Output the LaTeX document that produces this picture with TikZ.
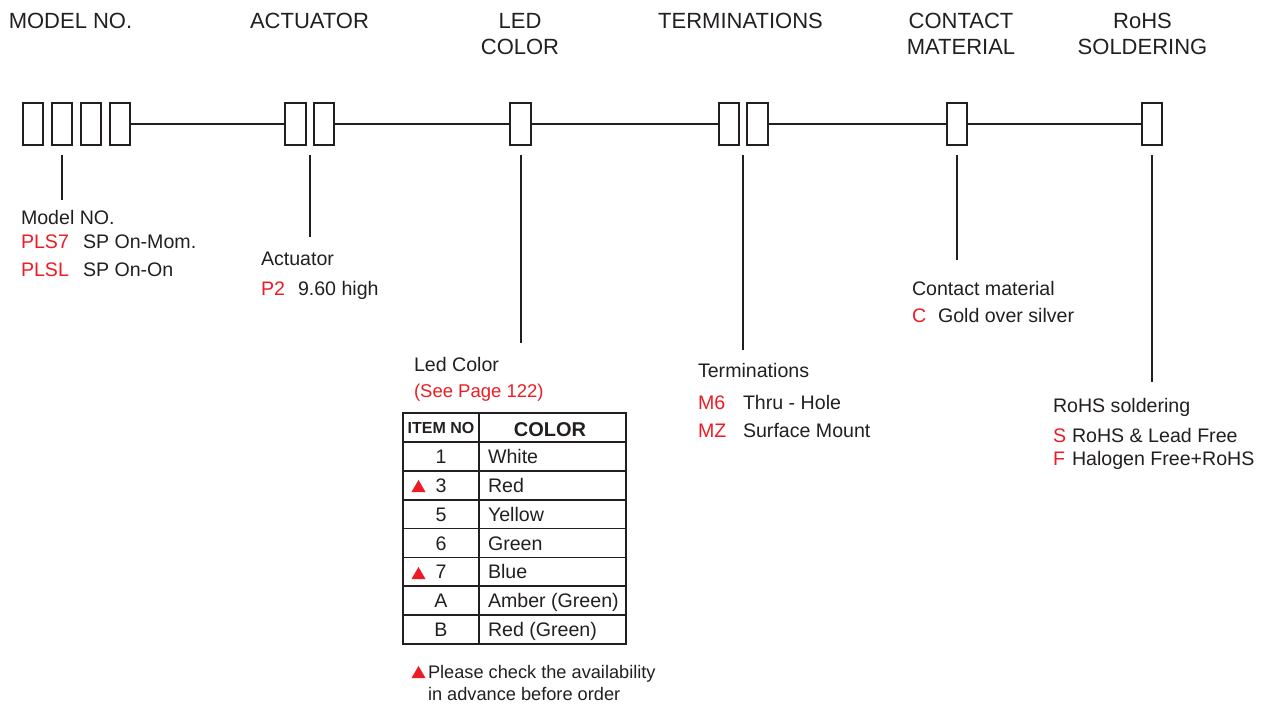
\documentclass[tikz,border=0pt]{standalone}
\usepackage{fontspec}
\setmainfont{Liberation Sans}
\usetikzlibrary{calc}
\definecolor{ink}{HTML}{231F20}
\definecolor{codered}{HTML}{ED1C24}
% red warning mark, given the middle of its base
\newcommand{\warnmark}[1]{\fill[codered] (#1) ++(-7,0) -- ++(14,0) -- ++(-7,-12) -- cycle;}

\begin{document}
\begin{tikzpicture}[x=1pt, y=-1pt, ink, line width=2pt,
    slot/.style={draw, minimum width=20.5pt, minimum height=42.5pt, inner sep=0pt},
    head/.style={font=\fontsize{22}{26}\selectfont, align=center, anchor=base, inner sep=0pt},
    lbl/.style={font=\fontsize{19.6}{22}\selectfont, anchor=base west, inner sep=0pt},
    code/.style={lbl, text=codered},
    cell/.style={font=\fontsize{19.6}{22}\selectfont, anchor=base, inner sep=0pt}]
  \useasboundingbox (0,0) rectangle (1270,704);

  % headings (two-line ones sit on their last line)
  \node[head] (hmodel) at (70.5,28) {MODEL NO.};
  \node[head] (hact) at (309.5,28) {ACTUATOR};
  \node[head] (hled) at (520,54) {LED\\COLOR};
  \node[head] (hterm) at (740.5,28) {TERMINATIONS};
  \node[head] (hcont) at (961,54) {CONTACT\\MATERIAL};
  \node[head] (hrohs) at (1142.5,54) {RoHS\\SOLDERING};

  % code slots
  \foreach \x [count=\i] in {33,62,91,120}
    \node[slot] (m\i) at (\x,124) {};
  \node[slot] (a1) at (295.5,124) {};
  \node[slot] (a2) at (324,124) {};
  \node[slot] (led) at (520.5,124) {};
  \node[slot] (t1) at (729,124) {};
  \node[slot] (t2) at (757.5,124) {};
  \node[slot] (cm) at (957,124) {};
  \node[slot] (rs) at (1152,124) {};
  \draw (m4.east) -- (a1.west) (a2.east) -- (led.west) (led.east) -- (t1.west)
        (t2.east) -- (cm.west) (cm.east) -- (rs.west);

  % leaders
  \coordinate (mend) at (62,200);
  \coordinate (aend) at (309.75,237);
  \coordinate (lend) at (520.5,343);
  \coordinate (tend) at (743.25,350);
  \coordinate (cend) at (957,260);
  \coordinate (rend) at (1152,382);
  \draw ([yshift=-9pt]m2.south) -- (mend);
  \draw ($(a1.south)!.5!(a2.south)+(0,9)$) -- (aend);
  \draw ([yshift=-9pt]led.south) -- (lend);
  \draw ($(t1.south)!.5!(t2.south)+(0,9)$) -- (tend);
  \draw ([yshift=-9pt]cm.south) -- (cend);
  \draw ([yshift=-9pt]rs.south) -- (rend);

  % model no.
  \node[lbl] (model) at (20,224) {Model NO.};
  \node[code] (pls7) at (20,248) {PLS7};
  \node[lbl] (pls7d) at (82,248) {SP On-Mom.};
  \node[code] (plsl) at (20,276) {PLSL};
  \node[lbl] (plsld) at (82,276) {SP On-On};

  % actuator
  \node[lbl] (act) at (260,265) {Actuator};
  \node[code] (p2) at (260,295) {P2};
  \node[lbl] (p2d) at (297,295) {9.60 high};

  % led color
  \node[lbl] (ledc) at (413,371) {Led Color};
  \node[code, font=\fontsize{18.5}{22}\selectfont] (page) at (413,397) {(See Page 122)};
  \draw[line width=1.8pt] (403,413) rectangle (626,644);
  \draw[line width=1.8pt] (479,413) -- (479,644);
  \foreach \i in {0,...,6}
    \draw[line width=1.8pt] (403,{442+28.857*\i}) -- (626,{442+28.857*\i});
  \node[cell, font=\fontsize{16}{18}\selectfont\bfseries] (itemh) at (441,433) {ITEM NO};
  \node[cell, font=\fontsize{20}{22}\selectfont\bfseries] (colh) at (550,436) {COLOR};
  \foreach \no/\col [count=\i] in {1/White,3/Red,5/Yellow,6/Green,7/Blue,A/{Amber (Green)},B/{Red (Green)}} {
    \node[cell] (no\i) at (441,{442+28.857*\i-7.4}) {\no};
    \node[lbl] (col\i) at (487,{442+28.857*\i-7.4}) {\col};
  }
  \warnmark{418.5,492}
  \warnmark{418.5,579}
  \warnmark{418.5,678}
  \node[lbl, font=\fontsize{18.2}{22}\selectfont, align=left] (note) at (427,700)
    {Please check the availability\\in advance before order};

  % terminations
  \node[lbl] (term) at (697,377) {Terminations};
  \node[code] (m6) at (697,409) {M6};
  \node[lbl] (m6d) at (742,409) {Thru - Hole};
  \node[code] (mz) at (697,437) {MZ};
  \node[lbl] (mzd) at (742,437) {Surface Mount};

  % contact material
  \node[lbl] (cont) at (911,295) {Contact material};
  \node[code] (c) at (911,322) {C};
  \node[lbl] (cd) at (937,322) {Gold over silver};

  % rohs soldering
  \node[lbl] (rohs) at (1052,412) {RoHS soldering};
  \node[code] (s) at (1052,442) {S};
  \node[lbl] (sd) at (1071,442) {RoHS \& Lead Free};
  \node[code] (f) at (1052,465) {F};
  \node[lbl] (fd) at (1071,465) {Halogen Free+RoHS};
\end{tikzpicture}
\end{document}
